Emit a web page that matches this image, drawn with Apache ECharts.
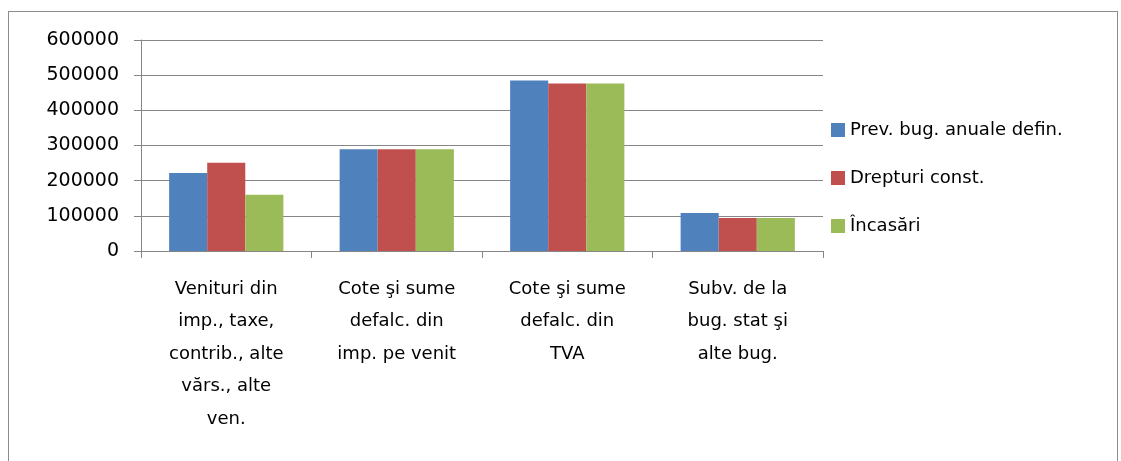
<!DOCTYPE html>
<html>
<head>
<meta charset="utf-8">
<script src="https://cdn.jsdelivr.net/npm/echarts@6/dist/echarts.min.js"></script>
<style>
  html, body { margin: 0; padding: 0; background: #fff; }
  #frame { position: absolute; left: 8px; top: 11px; width: 1108px; height: 460px;
           border: 1px solid #8c8c8c; border-bottom: none; }
  #pic { position: absolute; left: 0; top: 0; width: 1121px; height: 461px; }
</style>
</head>
<body>
<div id="frame"></div>
<div id="pic"></div>
<script>
var categories = [
    'Venituri din\nimp., taxe,\ncontrib., alte\nvărs., alte\nven.',
    'Cote şi sume\ndefalc. din\nimp. pe venit',
    'Cote şi sume\ndefalc. din\nTVA',
    'Subv. de la\nbug. stat şi\nalte bug.'
];
var seriesNames = ['Prev. bug. anuale defin.', 'Drepturi const.', 'Încasări'];
var prevValues = [222000, 289000, 485000, 108000];
var drepturiValues = [251000, 289000, 476000, 94000];
var incasariValues = [160000, 289000, 476000, 94000];
var colors = ['#4F81BD', '#C0504D', '#9BBB59'];

var font = 'DejaVu Sans';
var myChart = echarts.init(document.getElementById('pic'));
var option = {
    animation: false,
    color: colors,
    grid: { left: 141, right: 298, top: 40, bottom: 210, containLabel: false },
    legend: {
        orient: 'vertical',
        left: 826,
        top: 116,
        itemWidth: 14,
        itemHeight: 14,
        itemGap: 30,
        icon: 'rect',
        textStyle: { fontFamily: font, fontSize: 18, color: '#000' },
        data: seriesNames
    },
    xAxis: {
        type: 'category',
        data: categories,
        axisLine: { lineStyle: { color: '#868686' } },
        axisTick: { show: true, length: 7, lineStyle: { color: '#868686' } },
        axisLabel: {
            interval: 0,
            margin: 22,
            fontFamily: font,
            fontSize: 18,
            lineHeight: 32.5,
            color: '#000'
        }
    },
    yAxis: {
        type: 'value',
        min: 0,
        max: 600000,
        interval: 100000,
        axisLine: { show: true, lineStyle: { color: '#868686' } },
        axisTick: { show: true, length: 7, lineStyle: { color: '#868686' } },
        splitLine: { lineStyle: { color: '#868686' } },
        axisLabel: {
            margin: 22,
            fontFamily: font,
            fontSize: 19,
            color: '#000',
            formatter: function (v) { return String(v); }
        }
    },
    series: [
        { name: seriesNames[0], type: 'bar', data: prevValues, barGap: '0%', barCategoryGap: '33%' },
        { name: seriesNames[1], type: 'bar', data: drepturiValues, barGap: '0%', barCategoryGap: '33%' },
        { name: seriesNames[2], type: 'bar', data: incasariValues, barGap: '0%', barCategoryGap: '33%' }
    ]
};
myChart.setOption(option);
</script>
</body>
</html>
